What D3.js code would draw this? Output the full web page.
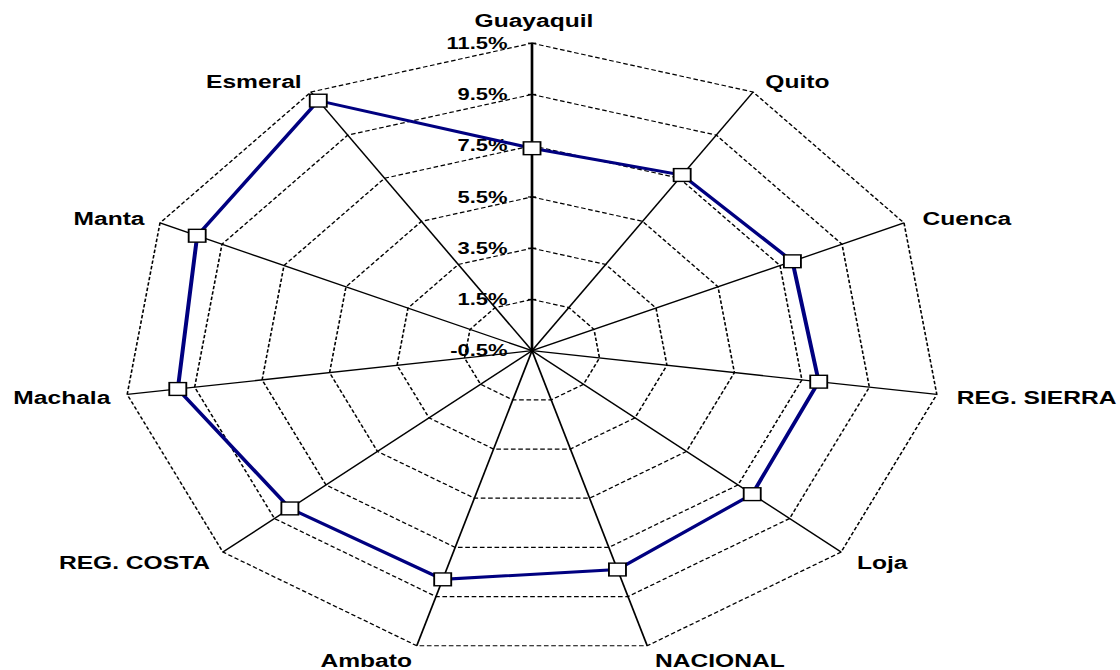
<!DOCTYPE html>
<html>
<head>
<meta charset="utf-8">
<script src="https://cdn.jsdelivr.net/npm/d3@7"></script>
<style>
  body { margin: 0; background: #fff; }
  text { font-family: Arial, "Liberation Sans", sans-serif; font-weight: bold; fill: #000; }
</style>
</head>
<body>
<div id="chart"></div>
<script>
// Data
const categories = ["Guayaquil", "Quito", "Cuenca", "REG. SIERRA", "Loja", "NACIONAL",
                    "Ambato", "REG. COSTA", "Machala", "Manta", "Esmeral"];
const values = [7.4, 7.65, 7.9, 8.0, 8.05, 8.4, 8.8, 8.9, 10.0, 10.3, 11.1];
const tickValues = [-0.5, 1.5, 3.5, 5.5, 7.5, 9.5, 11.5];
const tickLabels = ["-0.5%", "1.5%", "3.5%", "5.5%", "7.5%", "9.5%", "11.5%"];

const width = 1120, height = 670;
// the reference is stretched horizontally, so draw in a scaled group
const stretch = 1.33;
const cx = 532 / stretch, cy = 350.7, R = 307.5;

const svg = d3.select("#chart")
  .append("svg")
  .attr("width", width)
  .attr("height", height);

const g = svg.append("g")
  .attr("transform", `scale(${stretch},1)`);

const r = d3.scaleLinear()
  .domain([tickValues[0], tickValues[tickValues.length - 1]])
  .range([0, R]);

const angle = d3.scaleLinear()
  .domain([0, categories.length])
  .range([0, 2 * Math.PI]);

function pt(i, v) {
  const a = angle(i);
  return [cx + r(v) * Math.sin(a), cy - r(v) * Math.cos(a)];
}

const maxV = tickValues[tickValues.length - 1];

// Grid rings (dashed)
g.selectAll(".ring")
  .data(tickValues.slice(1))
  .join("path")
  .attr("class", "ring")
  .attr("d", v => d3.line().curve(d3.curveLinearClosed)(categories.map((c, i) => pt(i, v))))
  .attr("fill", "none")
  .attr("stroke", "#000")
  .attr("stroke-width", 1.2)
  .attr("stroke-dasharray", "3.5,2");

// Spokes
g.selectAll(".spoke")
  .data(categories)
  .join("line")
  .attr("class", "spoke")
  .attr("x1", cx)
  .attr("y1", cy)
  .attr("x2", (d, i) => pt(i, maxV)[0])
  .attr("y2", (d, i) => pt(i, maxV)[1])
  .attr("stroke", "#000")
  .attr("stroke-width", (d, i) => i === 0 ? 2 : 1.3);

// Small tick marks on the value axis
g.selectAll(".tick")
  .data(tickValues.slice(1))
  .join("line")
  .attr("class", "tick")
  .attr("x1", cx - 3)
  .attr("x2", cx + 3)
  .attr("y1", v => cy - r(v))
  .attr("y2", v => cy - r(v))
  .attr("stroke", "#000")
  .attr("stroke-width", 1.2);

// Value axis labels
g.selectAll(".tickLabel")
  .data(tickValues)
  .join("text")
  .attr("class", "tickLabel")
  .attr("x", cx - 18.4)
  .attr("y", v => cy - r(v))
  .attr("dy", "0.35em")
  .attr("text-anchor", "end")
  .style("font-size", "16.5px")
  .text((v, i) => tickLabels[i]);

// Data line
g.append("path")
  .attr("d", d3.line().curve(d3.curveLinearClosed)(values.map((v, i) => pt(i, v))))
  .attr("fill", "none")
  .attr("stroke", "#000080")
  .attr("stroke-width", 3);

// Markers
const ms = 12.8;
g.selectAll(".marker")
  .data(values)
  .join("rect")
  .attr("class", "marker")
  .attr("x", (v, i) => pt(i, v)[0] - ms / 2)
  .attr("y", (v, i) => pt(i, v)[1] - ms / 2)
  .attr("width", ms)
  .attr("height", ms)
  .attr("fill", "#fff")
  .attr("stroke", "#000")
  .attr("stroke-width", 1.4);

// Category labels (offsets computed in screen space)
g.selectAll(".catLabel")
  .data(categories)
  .join("text")
  .attr("class", "catLabel")
  .each(function(d, i) {
    const a = angle(i);
    const s = Math.sin(a), c = Math.cos(a);
    const [vx, vy] = pt(i, maxV);
    let dx = 17 * s + (s > 0.1 ? 3 : 0);
    let dy = -14 * c + 1;
    let anchor = s > 0.1 ? "start" : (s < -0.1 ? "end" : "middle");
    if (anchor === "middle") { dx = 2; dy = -23; }
    d3.select(this)
      .attr("x", (vx * stretch + dx) / stretch)
      .attr("y", vy + dy)
      .attr("dy", "0.35em")
      .attr("text-anchor", anchor);
  })
  .style("font-size", "18.5px")
  .text(d => d);
</script>
</body>
</html>
